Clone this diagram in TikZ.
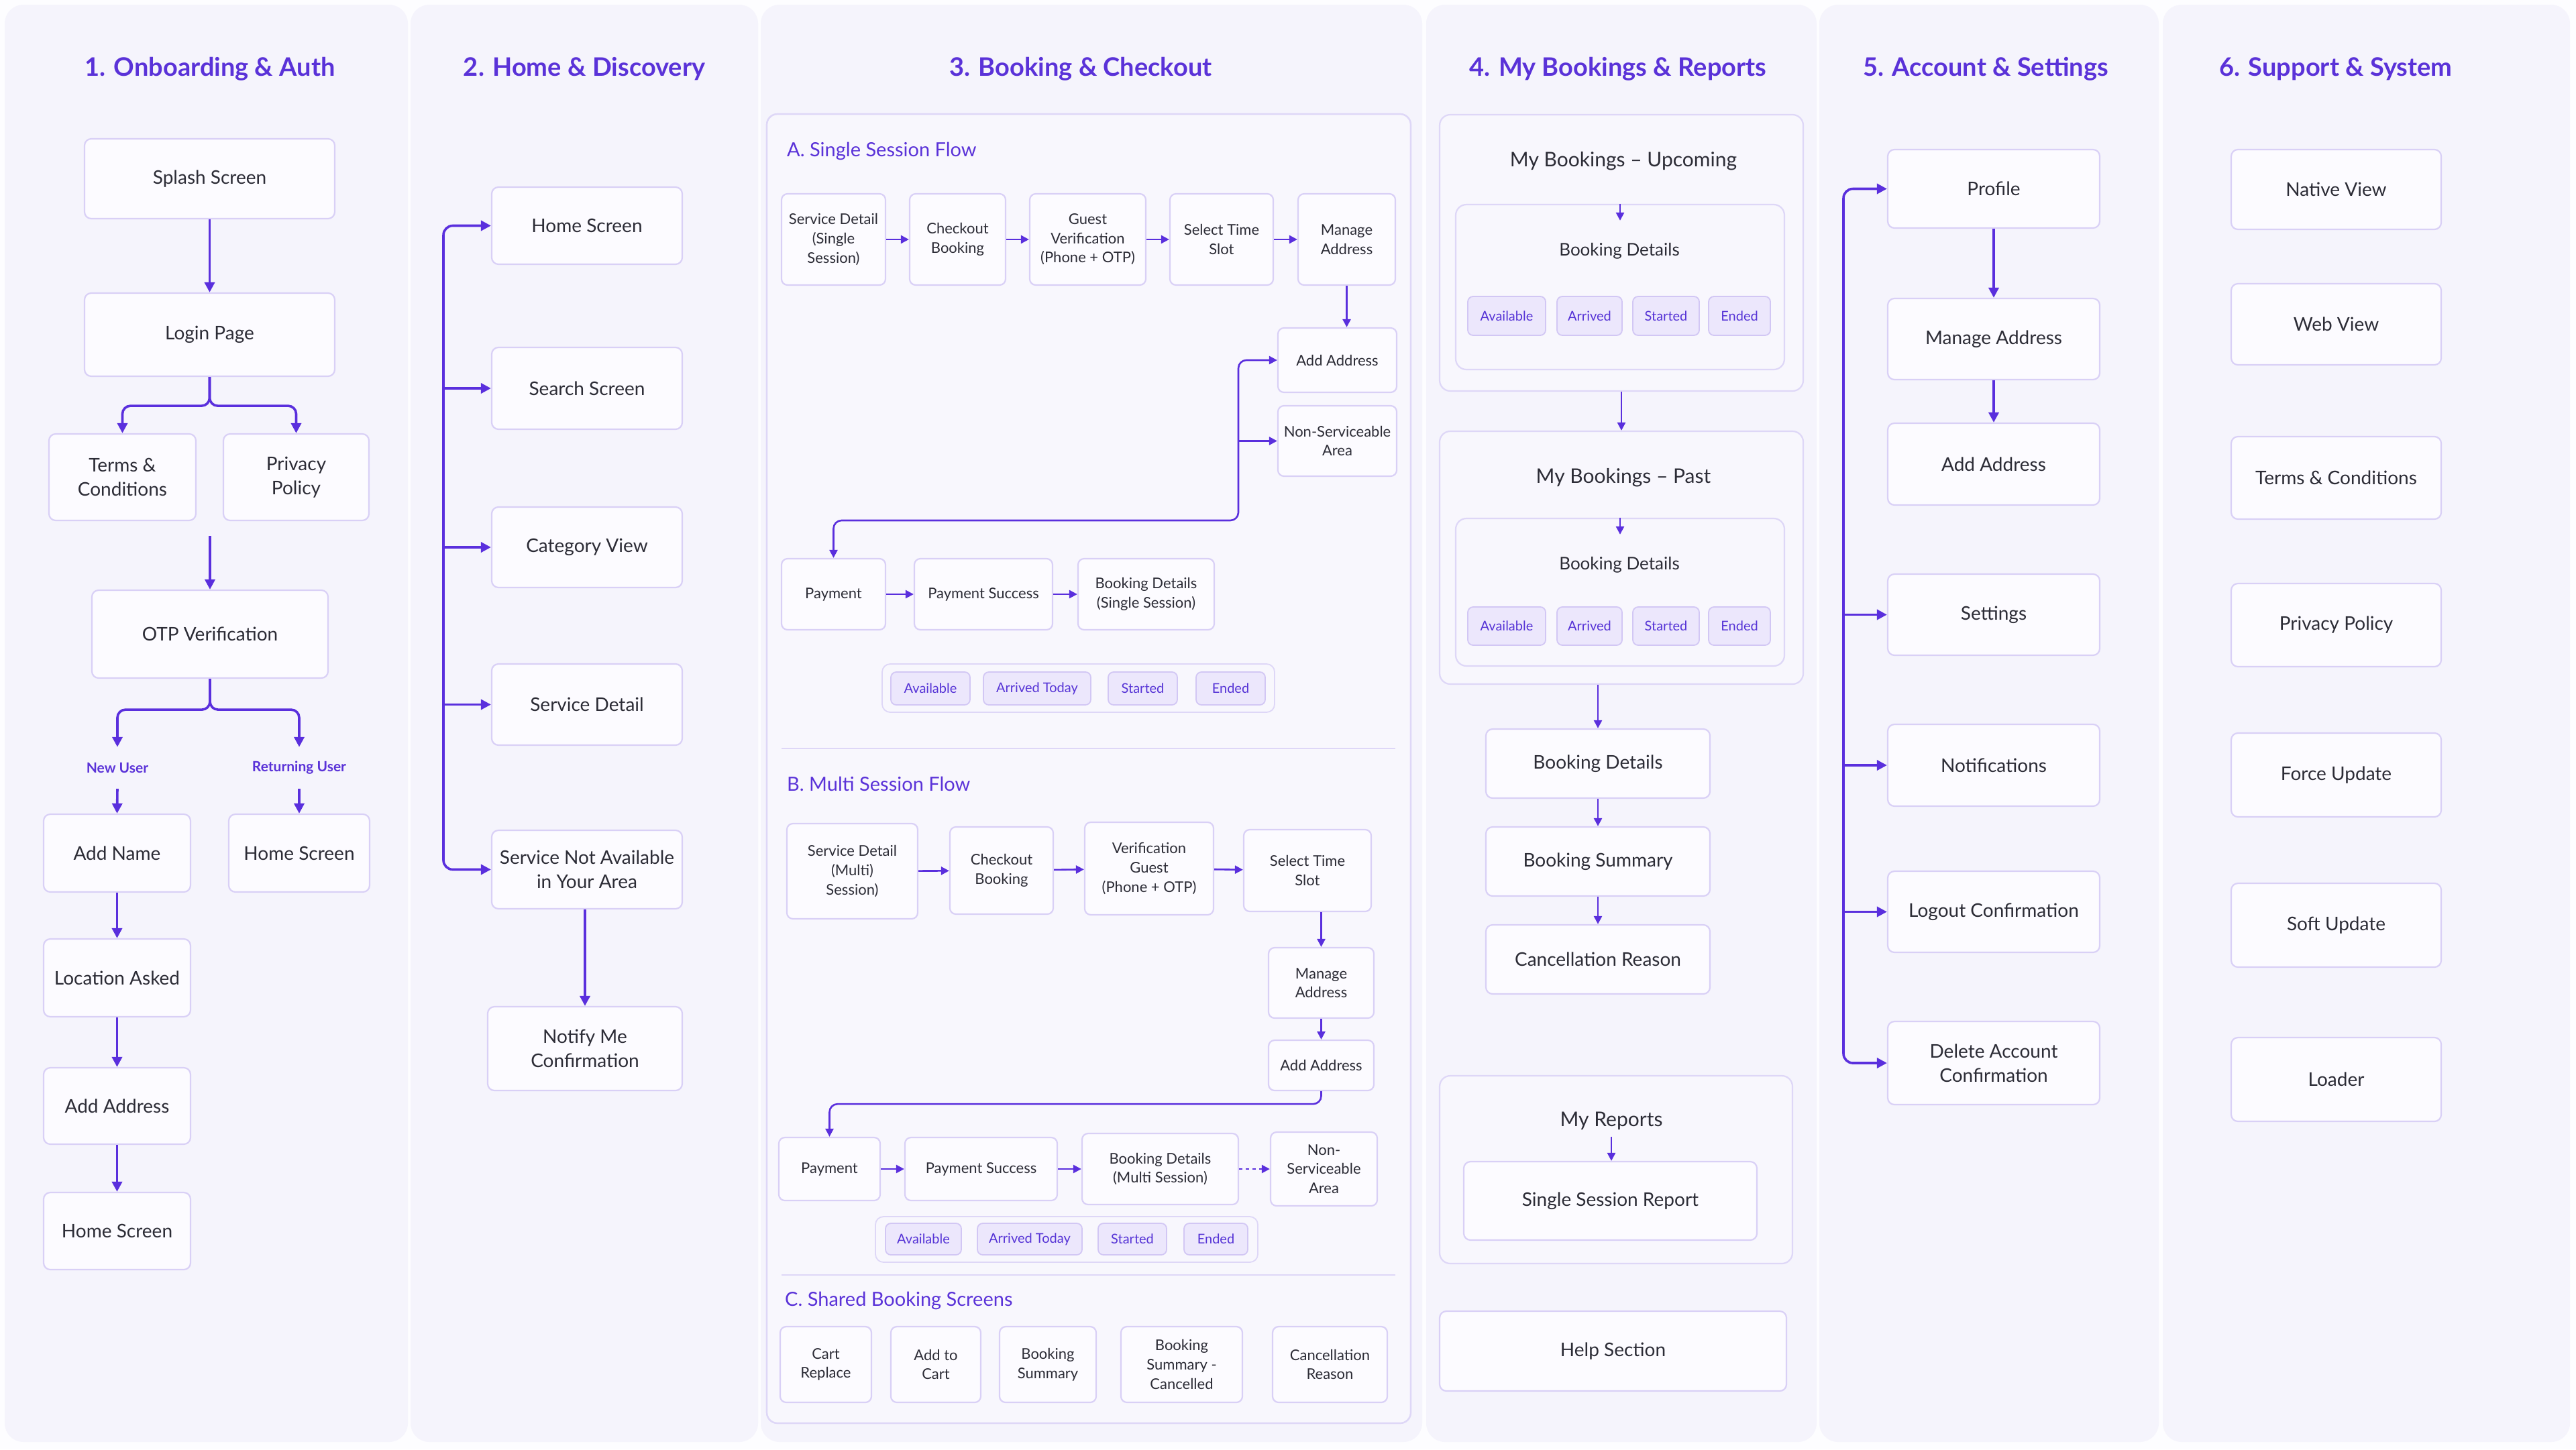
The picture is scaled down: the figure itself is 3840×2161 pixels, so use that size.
\documentclass[tikz,border=0pt]{standalone}
\usepackage{fontspec}
\setmainfont{Lato}
\usetikzlibrary{arrows.meta,calc}
\definecolor{pagebg}{HTML}{FDFDFF}
\definecolor{panel}{HTML}{F5F4FC}
\definecolor{acc}{HTML}{5A2FDD}
\definecolor{ttlc}{HTML}{5A32D8}
\definecolor{bord}{HTML}{D9D0F6}
\definecolor{boxfill}{HTML}{FCFBFF}
\definecolor{grpfill}{HTML}{F8F7FD}
\definecolor{grpbord}{HTML}{DED7F7}
\definecolor{txt}{HTML}{2C2C36}
\definecolor{chipfill}{HTML}{ECE7FC}
\definecolor{chipbord}{HTML}{D2C7F4}
\definecolor{chiptxt}{HTML}{5634D6}
\newcommand\fs[1]{\fontsize{#1}{\dimexpr #1pt*13/10\relax}\selectfont}
\newcommand\bx[7]{\node[#1, minimum width={#5-#3}, minimum height={#6-#4}] (#2) at ({(#3+#5)/2},{(#4+#6)/2}) {#7};}
\tikzset{
  panelbox/.style={fill=panel, draw=none, rounded corners=28pt},
  grp/.style={fill=grpfill, draw=grpbord, line width=2.2pt, rounded corners=16pt, inner sep=0pt},
  box/.style={draw=bord, line width=2.2pt, fill=boxfill, rounded corners=10pt, align=center, text=txt, inner sep=0pt, font=\fs{28}},
  sbox/.style={box, font=\fs{22}, rounded corners=9pt},
  chip/.style={draw=chipbord, fill=chipfill, line width=1.8pt, rounded corners=8pt, text=chiptxt, font=\fs{20}, inner sep=0pt},
  chipgrp/.style={draw=grpbord, fill=grpfill, line width=1.8pt, rounded corners=12pt, inner sep=0pt},
  arr/.style={draw=acc, line width=3.6pt, -{Triangle[length=15pt,width=15pt]}},
  arrs/.style={draw=acc, line width=2.6pt, -{Triangle[length=12pt,width=12pt]}},
  ttl/.style={text=ttlc, font=\bfseries\fs{38}},
  sub/.style={text=ttlc, font=\fs{29}, anchor=west, inner sep=0pt},
  lbl/.style={text=ttlc, font=\bfseries\fs{21}, inner sep=0pt, minimum height=62pt},
  plain/.style={text=txt, inner sep=0pt, align=center},
  sepline/.style={draw=grpbord, line width=2.5pt}
}
\begin{document}
\begin{tikzpicture}[x=1pt,y=-1pt]
\useasboundingbox (0,0) rectangle (3840,2161);
\fill[pagebg] (0,0) rectangle (3840,2161);
% panels
\fill[panelbox] (7,7) rectangle (608,2150);
\fill[panelbox] (612,7) rectangle (1130,2150);
\fill[panelbox] (1134,7) rectangle (2120,2150);
\fill[panelbox] (2126,7) rectangle (2708,2150);
\fill[panelbox] (2712,7) rectangle (3218,2150);
\fill[panelbox] (3224,7) rectangle (3831,2150);
% titles
\node[ttl] (t1) at (313,103) {1. Onboarding \& Auth};
\node[ttl] (t2) at (871,103) {2. Home \& Discovery};
\node[ttl] (t3) at (1611,103) {3. Booking \& Checkout};
\node[ttl] (t4) at (2412,103) {4. My Bookings \& Reports};
\node[ttl] (t5) at (2960,103) {5. Account \& Settings};
\node[ttl] (t6) at (3482,103) {6. Support \& System};

% ---------- column 1
\bx{box}{splash}{126}{207}{499}{326}{Splash Screen}
\bx{box}{login}{126}{437}{499}{561}{Login Page}
\bx{box}{terms}{73}{647}{292}{776}{Terms \&\\Conditions}
\bx{box}{privacy}{333}{647}{550}{776}{Privacy\\Policy}
\bx{box}{otp}{137}{880}{489}{1011}{OTP Verification}
\node[lbl] (nu) at (175,1145) {New User};
\node[lbl] (ru) at (446,1145) {Returning User};
\bx{box}{addname}{65}{1214}{284}{1330}{Add Name}
\bx{box}{homeR}{341}{1214}{551}{1330}{Home Screen}
\bx{box}{loc}{65}{1400}{284}{1516}{Location Asked}
\bx{box}{addaddr}{65}{1592}{284}{1706}{Add Address}
\bx{box}{homeA}{65}{1778}{284}{1893}{Home Screen}
\draw[arr] (splash) -- (login);
\draw[arr, rounded corners=12pt] (login.south) -- ++(0,43) -| (terms.north);
\draw[arr, rounded corners=12pt] (login.south) -- ++(0,43) -| (privacy.north);
\coordinate (c1) at (313,799);
\draw[arr] (c1) -- (c1 |- otp.north);
\draw[arr, rounded corners=12pt] (otp.south) -- ++(0,46) -| (nu.north);
\draw[arr, rounded corners=12pt] (otp.south) -- ++(0,46) -| (ru.north);
\draw[arr] (nu.south) -- (addname.north);
\draw[arr] (ru.south) -- (homeR.north);
\draw[arr] (addname) -- (loc);
\draw[arr] (loc) -- (addaddr);
\draw[arr] (addaddr) -- (homeA);

% ---------- column 2
\bx{box}{home2}{733}{279}{1017}{394}{Home Screen}
\bx{box}{search2}{733}{518}{1017}{640}{Search Screen}
\bx{box}{cat2}{733}{756}{1017}{876}{Category View}
\bx{box}{sd2}{733}{990}{1017}{1111}{Service Detail}
\bx{box}{sna2}{733}{1238}{1017}{1355}{Service Not Available\\in Your Area}
\bx{box}{notify2}{727}{1501}{1017}{1626}{Notify Me\\Confirmation}
\coordinate (b2) at (661,800);
\draw[arr, rounded corners=14pt] (b2) |- (home2.west);
\draw[arr, rounded corners=14pt] (b2) |- (sna2.west);
\draw[arr] (b2 |- search2.west) -- (search2.west);
\draw[arr] (b2 |- cat2.west) -- (cat2.west);
\draw[arr] (b2 |- sd2.west) -- (sd2.west);
\draw[arr] (notify2.north |- sna2.south) -- (notify2.north);

% ---------- column 3
\fill[grp] (1143,170) rectangle (2103,2122);
\draw[grpbord, line width=2.2pt, rounded corners=16pt] (1143,170) rectangle (2103,2122);
\node[sub] (sA) at (1173,225) {A. Single Session Flow};
\bx{sbox}{sdA}{1165}{289}{1320}{425}{Service Detail\\(Single\\Session)}
\bx{sbox}{coA}{1356}{289}{1499}{425}{Checkout\\Booking}
\bx{sbox}{gvA}{1535}{289}{1708}{425}{Guest\\Verification\\(Phone + OTP)}
\bx{sbox}{stA}{1744}{289}{1898}{425}{Select Time\\Slot}
\bx{sbox}{maA}{1935}{289}{2080}{425}{Manage\\Address}
\bx{sbox}{addA}{1905}{489}{2082}{585}{Add Address}
\bx{sbox}{nsA}{1905}{605}{2082}{710}{Non-Serviceable\\Area}
\bx{sbox}{payA}{1165}{833}{1320}{939}{Payment}
\bx{sbox}{psA}{1363}{833}{1569}{939}{Payment Success}
\bx{sbox}{bdA}{1607}{833}{1810}{939}{Booking Details\\(Single Session)}
\draw[arrs] (sdA) -- (coA);
\draw[arrs] (coA) -- (gvA);
\draw[arrs] (gvA) -- (stA);
\draw[arrs] (stA) -- (maA);
\draw[arrs] (maA.south) -- (maA.south |- addA.north);
\coordinate (jA) at (1846,776);
\draw[arrs, {Triangle[length=12pt,width=12pt]}-{Triangle[length=12pt,width=12pt]}, rounded corners=12pt]
  (addA.west) -- (jA |- addA.west) -- (jA) -- (jA -| payA.north) -- (payA.north);
\draw[arrs] (jA |- nsA.west) -- (nsA.west);
\draw[arrs] (payA) -- (psA);
\draw[arrs] (psA) -- (bdA);
\bx{chipgrp}{gA}{1315}{990}{1900}{1062}{}
\bx{chip}{avA}{1328}{1002}{1446}{1051}{Available}
\bx{chip}{atA}{1466}{1002}{1626}{1051}{Arrived Today}
\bx{chip}{stsA}{1652}{1002}{1755}{1051}{Started}
\bx{chip}{enA}{1783}{1002}{1886}{1051}{Ended}
\coordinate (s1a) at (1165,1116);
\coordinate (s1b) at (2080,1116);
\draw[sepline] (s1a) -- (s1b);
\node[sub] (sB) at (1173,1169) {B. Multi Session Flow};
\bx{sbox}{sdB}{1173}{1228}{1368}{1370}{Service Detail\\(Multi)\\Session)}
\bx{sbox}{coB}{1416}{1233}{1570}{1363}{Checkout\\Booking}
\bx{sbox}{gvB}{1617}{1226}{1809}{1364}{Verification\\Guest\\(Phone + OTP)}
\bx{sbox}{stB}{1854}{1237}{2044}{1359}{Select Time\\Slot}
\bx{sbox}{maB}{1891}{1413}{2048}{1518}{Manage\\Address}
\bx{sbox}{adB}{1891}{1551}{2048}{1626}{Add Address}
\bx{sbox}{payB}{1161}{1696}{1312}{1790}{Payment}
\bx{sbox}{psB}{1349}{1696}{1576}{1790}{Payment Success}
\bx{sbox}{bdB}{1613}{1690}{1846}{1796}{Booking Details\\(Multi Session)}
\bx{sbox}{nsB}{1894}{1688}{2053}{1798}{Non-\\Serviceable\\Area}
\draw[arrs] (sdB) -- (coB);
\draw[arrs] (coB) -- (gvB);
\draw[arrs] (gvB) -- (stB);
\draw[arrs] (maB.north |- stB.south) -- (maB.north);
\draw[arrs] (maB) -- (adB);
\draw[arrs, rounded corners=12pt] (adB.south) -- ++(0,19) -| (payB.north);
\draw[arrs] (payB) -- (psB);
\draw[arrs] (psB) -- (bdB);
\draw[arrs, dash pattern=on 5pt off 5pt] (bdB) -- (nsB);
\bx{chipgrp}{gB}{1305}{1814}{1875}{1882}{}
\bx{chip}{avB}{1320}{1824}{1433}{1871}{Available}
\bx{chip}{atB}{1457}{1824}{1613}{1871}{Arrived Today}
\bx{chip}{stsB}{1637}{1824}{1739}{1871}{Started}
\bx{chip}{enB}{1765}{1824}{1860}{1871}{Ended}
\coordinate (s2a) at (1165,1901);
\coordinate (s2b) at (2080,1901);
\draw[sepline] (s2a) -- (s2b);
\node[sub] (sC) at (1170,1939) {C. Shared Booking Screens};
\bx{sbox}{crC}{1163}{1978}{1299}{2091}{Cart\\Replace}
\bx{sbox}{acC}{1328}{1978}{1462}{2091}{Add to\\Cart}
\bx{sbox}{bsC}{1490}{1978}{1634}{2091}{Booking\\Summary}
\bx{sbox}{bscC}{1671}{1978}{1852}{2091}{Booking\\Summary -\\Cancelled}
\bx{sbox}{crsC}{1897}{1978}{2068}{2091}{Cancellation\\Reason}

% ---------- column 4
\bx{grp}{upO}{2146}{171}{2688}{583}{}
\node[plain, font=\fs{30}] (upT) at (2420,240) {My Bookings – Upcoming};
\bx{grp}{upI}{2170}{305}{2660}{551}{}
\node[plain, font=\fs{26}] (bdU) at (2414,374) {Booking Details};
\bx{chip}{avU}{2188}{442}{2304}{500}{Available}
\bx{chip}{arU}{2321}{442}{2418}{500}{Arrived}
\bx{chip}{stU}{2434}{442}{2533}{500}{Started}
\bx{chip}{enU}{2547}{442}{2639}{500}{Ended}
\draw[arrs] (upI.north) -- ($(upI.north)+(0,25)$);
\bx{grp}{pastO}{2146}{643}{2688}{1020}{}
\node[plain, font=\fs{30}] (pastT) at (2420,712) {My Bookings – Past};
\bx{grp}{pastI}{2170}{773}{2660}{993}{}
\node[plain, font=\fs{26}] (bdP) at (2414,842) {Booking Details};
\bx{chip}{avP}{2188}{905}{2304}{962}{Available}
\bx{chip}{arP}{2321}{905}{2418}{962}{Arrived}
\bx{chip}{stP}{2434}{905}{2533}{962}{Started}
\bx{chip}{enP}{2547}{905}{2639}{962}{Ended}
\draw[arrs] (pastI.north) -- ($(pastI.north)+(0,25)$);
\draw[arrs] (upO.south) -- (pastO.north);
\bx{box}{bd4}{2215}{1087}{2549}{1190}{Booking Details}
\bx{box}{bs4}{2215}{1233}{2549}{1336}{Booking Summary}
\bx{box}{cr4}{2215}{1379}{2549}{1482}{Cancellation Reason}
\draw[arrs] (bd4.north |- pastO.south) -- (bd4.north);
\draw[arrs] (bd4) -- (bs4);
\draw[arrs] (bs4) -- (cr4);
\bx{grp}{mrO}{2146}{1604}{2672}{1884}{}
\node[plain, font=\fs{30}] (mrT) at (2402,1671) {My Reports};
\bx{box}{ssr}{2182}{1732}{2619}{1849}{Single Session Report}
\draw[arrs, shorten <=10pt] (mrT.south) -- (mrT.south |- ssr.north);
\bx{box}{help}{2146}{1955}{2663}{2074}{Help Section}

% ---------- column 5
\bx{box}{profile}{2814}{223}{3130}{340}{Profile}
\bx{box}{manage5}{2814}{445}{3130}{566}{Manage Address}
\bx{box}{add5}{2814}{631}{3130}{753}{Add Address}
\bx{box}{settings5}{2814}{856}{3130}{977}{Settings}
\bx{box}{notif5}{2814}{1080}{3130}{1202}{Notifications}
\bx{box}{logout5}{2814}{1299}{3130}{1420}{Logout Confirmation}
\bx{box}{delete5}{2814}{1523}{3130}{1647}{Delete Account\\Confirmation}
\draw[arr] (profile) -- (manage5);
\draw[arr] (manage5) -- (add5);
\coordinate (b5) at (2748,900);
\draw[arr, rounded corners=14pt] (b5) |- (profile.west);
\draw[arr, rounded corners=14pt] (b5) |- (delete5.west);
\draw[arr] (b5 |- settings5.west) -- (settings5.west);
\draw[arr] (b5 |- notif5.west) -- (notif5.west);
\draw[arr] (b5 |- logout5.west) -- (logout5.west);

% ---------- column 6
\bx{box}{native6}{3326}{223}{3639}{342}{Native View}
\bx{box}{web6}{3326}{423}{3639}{544}{Web View}
\bx{box}{tc6}{3326}{651}{3639}{774}{Terms \& Conditions}
\bx{box}{pp6}{3326}{870}{3639}{994}{Privacy Policy}
\bx{box}{force6}{3326}{1093}{3639}{1218}{Force Update}
\bx{box}{soft6}{3326}{1317}{3639}{1442}{Soft Update}
\bx{box}{loader6}{3326}{1547}{3639}{1672}{Loader}
\end{tikzpicture}
\end{document}
